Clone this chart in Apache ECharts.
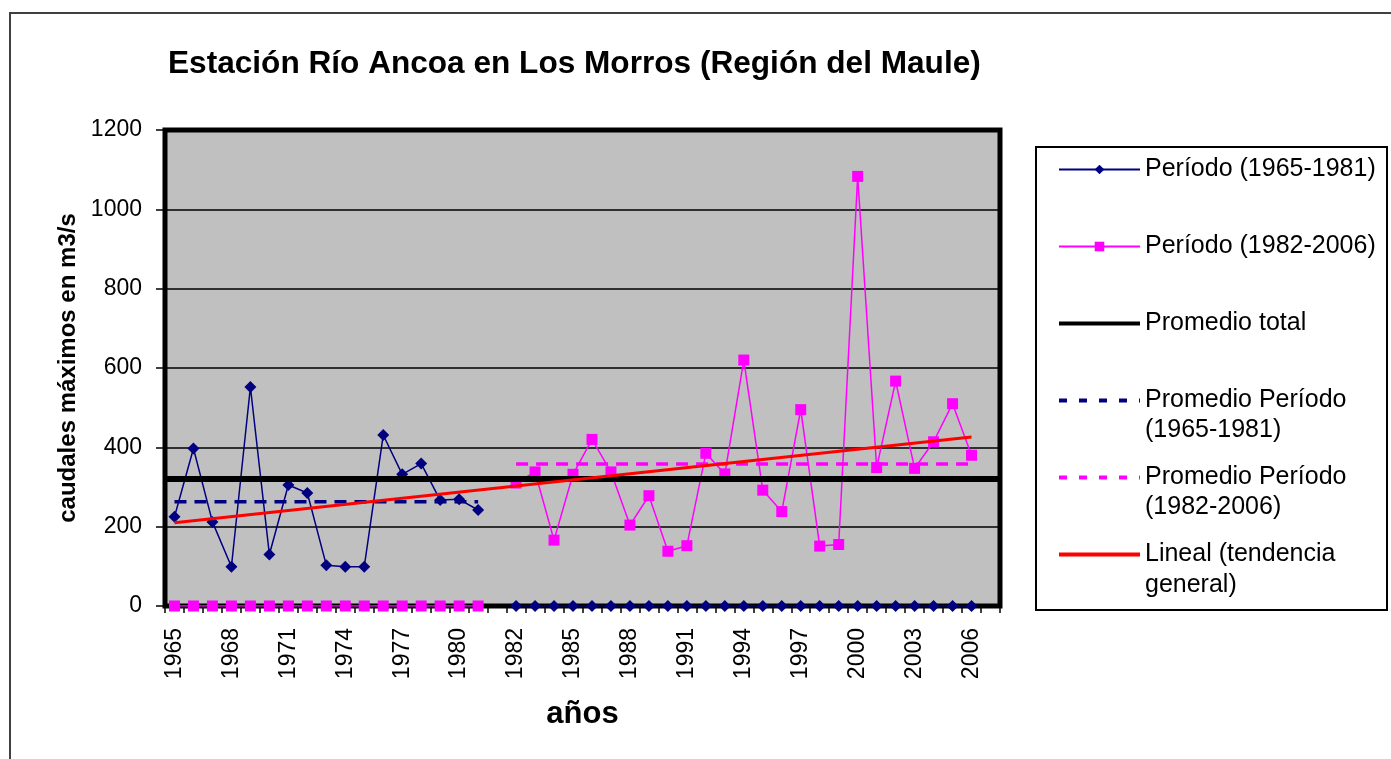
<!DOCTYPE html>
<html lang="es">
<head>
    <meta charset="UTF-8">
    <title>Estación Río Ancoa en Los Morros</title>
    <script src="https://cdn.jsdelivr.net/npm/echarts@6/dist/echarts.min.js"></script>
    <style>
        html, body { margin: 0; padding: 0; background: #fff; }
    </style>
</head>
<body>
    <div id="main" style="width: 1391px;height:759px;"></div>
    <script type="text/javascript">
       // categorias del eje x (hay una categoria vacia entre los dos periodos y otra al final)
       var years = ['1965','1966','1967','1968','1969','1970','1971','1972','1973','1974','1975','1976',
                    '1977','1978','1979','1980','1981','',
                    '1982','1983','1984','1985','1986','1987','1988','1989','1990','1991','1992','1993',
                    '1994','1995','1996','1997','1998','1999','2000','2001','2002','2003','2004','2005','2006',''];

       // caudales maximos (m3/s)
       var periodo1 = [225, 397, 212, 99, 552, 130, 305, 285, 103, 99, 99, 431, 332, 359, 267, 269, 242,
                       null,
                       0, 0, 0, 0, 0, 0, 0, 0, 0, 0, 0, 0, 0, 0, 0, 0, 0, 0, 0, 0, 0, 0, 0, 0, 0,
                       null];
       var periodo2 = [0, 0, 0, 0, 0, 0, 0, 0, 0, 0, 0, 0, 0, 0, 0, 0, 0,
                       null,
                       310, 338, 166, 332, 420, 338, 204, 278, 138, 152, 385, 333, 620, 292, 238, 495,
                       151, 155, 1083, 349, 567, 347, 414, 510, 380,
                       null];

       var promedioTotal = 320;
       var promedio1 = 263;
       var promedio2 = 358;
       var tendenciaInicio = 210;   // 1965
       var tendenciaFin = 426;      // 2006

       var yTicks = [0, 200, 400, 600, 800, 1000, 1200];

       var font = '"Liberation Sans", Arial, sans-serif';

       var prom1Data = years.map(function (y, i) { return i < 17 ? promedio1 : null; });
       var prom2Data = years.map(function (y, i) { return (i > 17 && i < 43) ? promedio2 : null; });
       var tendData = years.map(function (y, i) {
           if (i === 0) return tendenciaInicio;
           if (i === 42) return tendenciaFin;
           return null;
       });

       var legendText = {
           'Período (1965-1981)': 'Período (1965-1981)',
           'Período (1982-2006)': 'Período (1982-2006)',
           'Promedio total': 'Promedio total',
           'Promedio Período (1965-1981)': 'Promedio Período',
           'Promedio Período (1982-2006)': 'Promedio Período',
           'Lineal (tendencia general)': 'Lineal (tendencia'
       };
       var noSymbol = { color: 'rgba(0,0,0,0)', borderColor: 'rgba(0,0,0,0)', borderWidth: 0 };

       var myChart = echarts.init(document.getElementById("main"));

       var option = {
           animation: false,
           backgroundColor: '#fff',
           title: {
               text: 'Estación Río Ancoa en Los Morros (Región del Maule)',
               left: 168,
               top: 48,
               padding: 0,
               textStyle: { fontFamily: font, fontSize: 31.6, fontWeight: 'bold', color: '#000' }
           },
           graphic: [
               { type: 'rect', z: -10, silent: true,
                 shape: { x: 10, y: 13, width: 1400, height: 800 },
                 style: { fill: 'none', stroke: '#404040', lineWidth: 2 } },
               { type: 'rect', z: -5, silent: true,
                 shape: { x: 1036, y: 147, width: 351, height: 463 },
                 style: { fill: '#fff', stroke: '#000', lineWidth: 2 } },
               { type: 'text', x: 1145, y: 430, silent: true,
                 style: { text: '(1965-1981)', font: '25px ' + font, fill: '#000', verticalAlign: 'middle' } },
               { type: 'text', x: 1145, y: 507, silent: true,
                 style: { text: '(1982-2006)', font: '25px ' + font, fill: '#000', verticalAlign: 'middle' } },
               { type: 'text', x: 1145, y: 585, silent: true,
                 style: { text: 'general)', font: '25px ' + font, fill: '#000', verticalAlign: 'middle' } }
           ],
           legend: {
               orient: 'vertical',
               left: 1057,
               top: 157,
               padding: 0,
               itemGap: 52,
               itemWidth: 81,
               itemHeight: 12,
               formatter: function (name) { return legendText[name]; },
               textStyle: { fontFamily: font, fontSize: 25, lineHeight: 25, color: '#000' },
               data: [
                   { name: 'Período (1965-1981)', lineStyle: { width: 2 } },
                   { name: 'Período (1982-2006)', lineStyle: { width: 2 } },
                   { name: 'Promedio total', itemStyle: noSymbol, lineStyle: { width: 4 } },
                   { name: 'Promedio Período (1965-1981)', itemStyle: noSymbol, lineStyle: { width: 4, type: [8, 12] } },
                   { name: 'Promedio Período (1982-2006)', itemStyle: noSymbol, lineStyle: { width: 4, type: [8, 12] } },
                   { name: 'Lineal (tendencia general)', itemStyle: noSymbol, lineStyle: { width: 4 } }
               ]
           },
           grid: {
               left: 165,
               right: 391,
               top: 130,
               bottom: 153,
               show: true,
               backgroundColor: '#c0c0c0',
               borderColor: '#000',
               borderWidth: 5
           },
           xAxis: {
               type: 'category',
               data: years,
               boundaryGap: true,
               name: 'años',
               nameLocation: 'middle',
               nameGap: 93,
               nameTextStyle: { fontFamily: font, fontSize: 31, fontWeight: 'bold', color: '#000' },
               axisLine: { show: true, lineStyle: { color: '#000', width: 2 } },
               axisTick: { show: true, interval: 0, alignWithLabel: false, length: 7, lineStyle: { color: '#000', width: 1.5 } },
               axisLabel: { interval: 2, rotate: 90, margin: 22, fontFamily: font, fontSize: 23, color: '#000' },
               splitLine: { show: false }
           },
           yAxis: {
               type: 'value',
               min: yTicks[0],
               max: yTicks[yTicks.length - 1],
               interval: 200,
               name: 'caudales máximos en m3/s',
               nameLocation: 'middle',
               nameGap: 40,
               nameRotate: 90,
               nameTextStyle: { fontFamily: font, fontSize: 24, fontWeight: 'bold', color: '#000' },
               axisLine: { show: true, lineStyle: { color: '#000', width: 2 } },
               axisTick: { show: true, length: 9, lineStyle: { color: '#000', width: 1.5 } },
               axisLabel: {
                   margin: 23, fontFamily: font, fontSize: 23, color: '#000',
                   formatter: function (v) { return String(v); }
               },
               splitLine: { show: true, lineStyle: { color: '#000', width: 1.5 } }
           },
           series: [
               {
                   name: 'Período (1965-1981)',
                   type: 'line',
                   data: periodo1,
                   symbol: 'diamond',
                   symbolSize: 12,
                   connectNulls: false,
                   itemStyle: { color: '#000080' },
                   lineStyle: { color: '#000080', width: 1.5 },
                   z: 3
               },
               {
                   name: 'Período (1982-2006)',
                   type: 'line',
                   data: periodo2,
                   symbol: 'rect',
                   symbolSize: 11,
                   connectNulls: false,
                   itemStyle: { color: '#ff00ff' },
                   lineStyle: { color: '#ff00ff', width: 1.5 },
                   z: 4
               },
               {
                   name: 'Promedio total',
                   type: 'line',
                   data: [],
                   symbol: 'none',
                   itemStyle: { color: '#000' },
                   lineStyle: { color: '#000', width: 3 },
                   markLine: {
                       silent: true,
                       symbol: 'none',
                       label: { show: false },
                       lineStyle: { color: '#000', width: 6, type: 'solid' },
                       data: [{ yAxis: promedioTotal }]
                   },
                   z: 5
               },
               {
                   name: 'Promedio Período (1965-1981)',
                   type: 'line',
                   data: prom1Data,
                   symbol: 'none',
                   itemStyle: { color: '#000080' },
                   lineStyle: { color: '#000080', width: 3.5, type: [12, 8] },
                   z: 6
               },
               {
                   name: 'Promedio Período (1982-2006)',
                   type: 'line',
                   data: prom2Data,
                   symbol: 'none',
                   itemStyle: { color: '#ff00ff' },
                   lineStyle: { color: '#ff00ff', width: 3.5, type: [12, 8] },
                   z: 6
               },
               {
                   name: 'Lineal (tendencia general)',
                   type: 'line',
                   data: tendData,
                   connectNulls: true,
                   symbol: 'none',
                   itemStyle: { color: '#ff0000' },
                   lineStyle: { color: '#ff0000', width: 3 },
                   z: 7
               }
           ]
       };

       myChart.setOption(option);
    </script>
</body>
</html>
